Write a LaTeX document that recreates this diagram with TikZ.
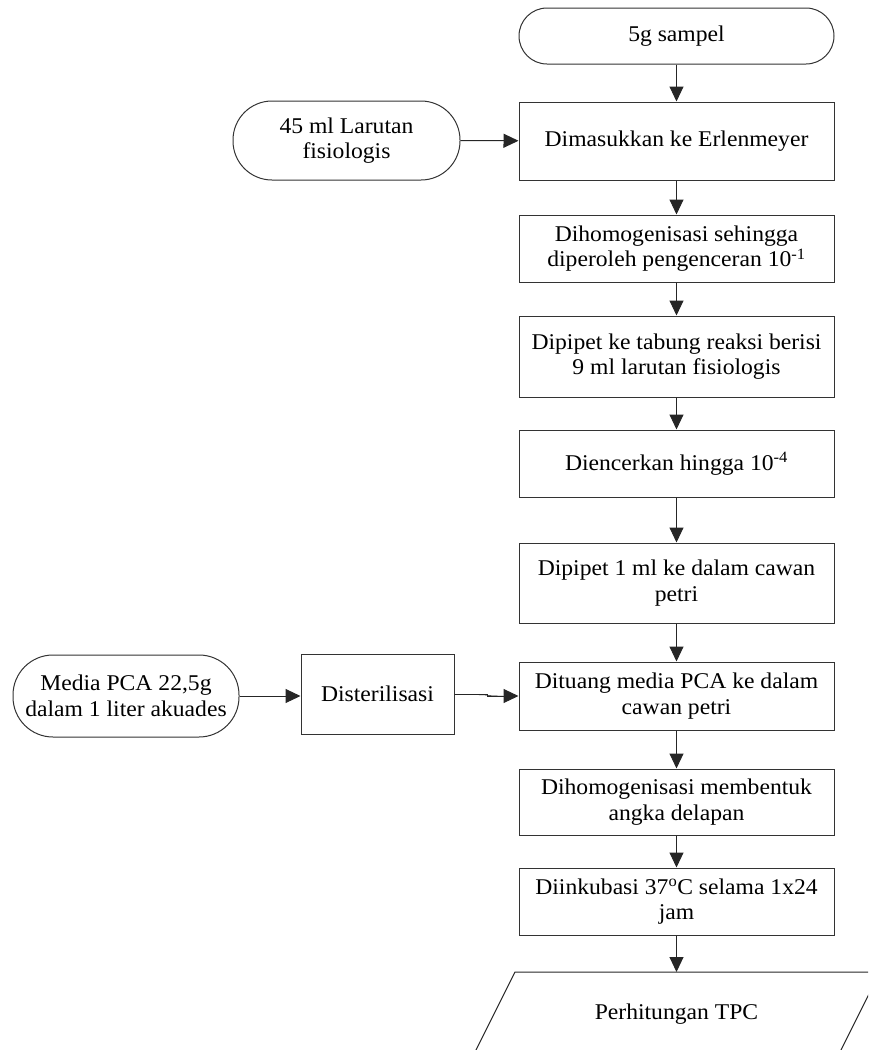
\documentclass[tikz,border=0pt]{standalone}
\usepackage{fontspec}
\setmainfont{Liberation Serif}[FakeStretch=1.05]
\usetikzlibrary{arrows.meta}
\begin{document}
\begin{tikzpicture}[x=1pt,y=-1pt,
  every node/.style={font=\fontsize{22.5}{25.5}\selectfont, align=center, inner sep=0pt},
  proc/.style={draw=black!80, line width=1pt, minimum width=315pt},
  term/.style={draw=black!80, line width=1pt, rounded corners=#1},
  arr/.style={-{Triangle[length=15pt,width=14pt]}, line width=1pt, draw=black!85, fill=black}]
\clip (0,0) rectangle (868,1050);
% main column
\node[term=28pt, minimum width=315pt, minimum height=56pt] (t1) at (676.5,36) {5g sampel};
\node[proc, minimum height=78pt] (b1) at (676.5,141) {Dimasukkan ke Erlenmeyer};
\node[term=39pt, minimum width=227pt, minimum height=79pt] (t2) at (346.5,140.5) {45 ml Larutan\\fisiologis};
\node[proc, minimum height=67pt] (b2) at (676.5,248.5) {Dihomogenisasi sehingga\\diperoleh pengenceran 10\textsuperscript{-1}};
\node[proc, minimum height=81pt] (b3) at (676.5,356.5) {Dipipet ke tabung reaksi berisi\\9 ml larutan fisiologis};
\node[proc, minimum height=67pt] (b4) at (676.5,463.5) {Diencerkan hingga 10\textsuperscript{-4}};
\node[proc, minimum height=80pt] (b5) at (676.5,583) {Dipipet 1 ml ke dalam cawan\\petri};
\node[proc, minimum height=68pt] (b6) at (676.5,696) {Dituang media PCA ke dalam\\cawan petri};
\node[term=40pt, minimum width=226pt, minimum height=82pt] (t3) at (126,696) {Media PCA 22,5g\\dalam 1 liter akuades};
\node[draw=black!80, line width=1pt, minimum width=153pt, minimum height=80pt] (b7) at (377.5,694) {Disterilisasi};
\node[proc, minimum height=66pt] (b8) at (676.5,802) {Dihomogenisasi membentuk\\angka delapan};
\node[proc, minimum height=67pt] (b9) at (676.5,901.5) {Diinkubasi 37\textsuperscript{o}C selama 1x24\\jam};
% output parallelogram
\draw[line width=1pt, black!85] (515,972) -- (880,972) -- (840,1052) -- (475,1052) -- cycle;
\node (p) at (676.5,1014) {Perhitungan TPC};
\coordinate (ptop) at (676.5,972);
\coordinate (jog) at (487,694);
% connectors
\draw[arr] (t1) -- (b1);
\draw[arr] (t2) -- (b1);
\draw[arr] (b1) -- (b2);
\draw[arr] (b2) -- (b3);
\draw[arr] (b3) -- (b4);
\draw[arr] (b4) -- (b5);
\draw[arr] (b5) -- (b6);
\draw[arr] (t3.east) -- (t3.east -| b7.west);
\draw[arr] (b7.east) -- (jog) -- (jog |- b6.west) -- (b6.west);
\draw[arr] (b6) -- (b8);
\draw[arr] (b8) -- (b9);
\draw[arr] (b9.south) -- (ptop);
\end{tikzpicture}
\end{document}
